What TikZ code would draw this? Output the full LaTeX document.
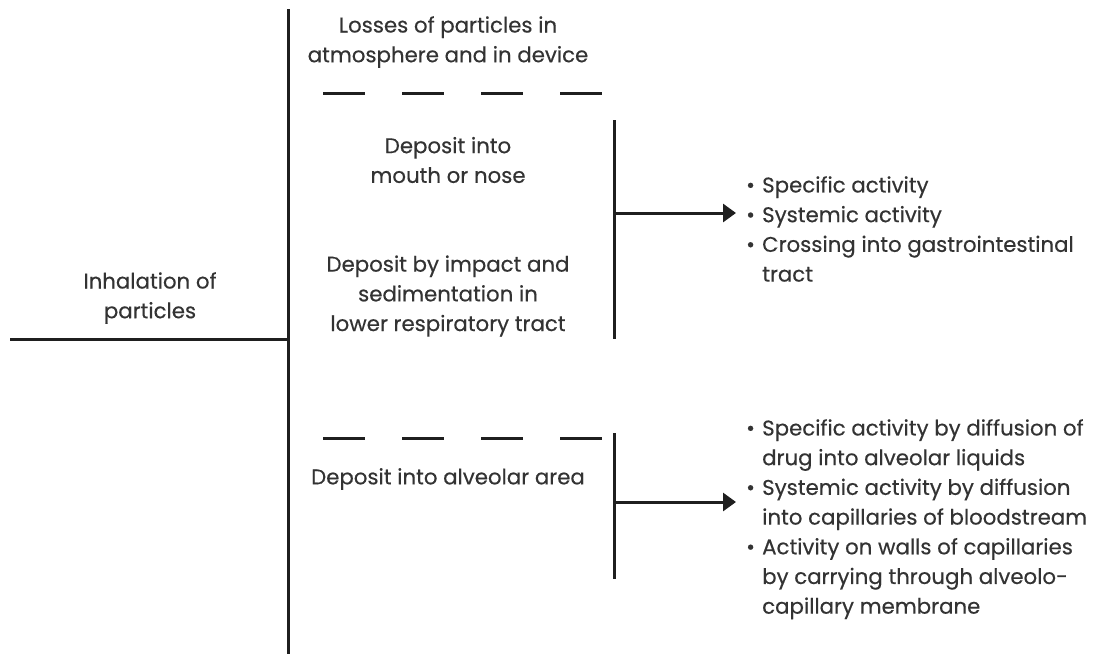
\documentclass[tikz,border=0pt]{standalone}
\usepackage{fontspec}
\setmainfont{Poppins}[FakeBold=0.4]
\usetikzlibrary{arrows.meta}
\newcommand\bul{\makebox[16pt][l]{\textbullet}}
\newcommand\hang{\hspace*{16pt}}
\begin{document}
\begin{tikzpicture}[x=1pt,y=-1pt,
  ln/.style={line width=3pt, draw=black!88},
  dsh/.style={line width=3pt, draw=black!88, dash pattern=on 42pt off 37pt},
  arr/.style={ln, -{Triangle[length=13pt,width=18pt]}},
  lbl/.style={font=\fontsize{21.3}{29.7}\selectfont, align=center, text=black!80, inner sep=0},
  blist/.style={font=\fontsize{21.3}{29.7}\selectfont, align=left, text=black!80, inner sep=0, anchor=north west}]
\useasboundingbox (0,0) rectangle (1101,654);
% main spine
\coordinate (top) at (288,9);
\coordinate (bot) at (288,654);
\coordinate (in) at (10,339);
\coordinate (junc) at (288,339);
\draw[ln] (top) -- (bot);
\draw[ln] (in) -- (junc);
\node[lbl] (inh) at (150,298) {Inhalation of\\particles};
% losses
\node[lbl] (loss) at (448,42) {Losses of particles in\\atmosphere and in device};
\coordinate (d1a) at (323,93);
\coordinate (d1b) at (602,93);
\draw[dsh] (d1a) -- (d1b);
% upper deposits
\node[lbl] (mouth) at (448,160) {Deposit into\\mouth or nose};
\node[lbl] (impact) at (448,296) {Deposit by impact and\\sedimentation in\\lower respiratory tract};
\coordinate (v1t) at (614,120);
\coordinate (v1b) at (614,339);
\draw[ln] (v1t) -- (v1b);
\coordinate (a1s) at (614,213);
\coordinate (a1e) at (736,213);
\draw[arr] (a1s) -- (a1e);
\node[blist] (list1) at (746,176) {\bul Specific activity\\\bul Systemic activity\\\bul Crossing into gastrointestinal\\\hang tract};
% alveolar
\coordinate (d2a) at (323,438);
\coordinate (d2b) at (602,438);
\draw[dsh] (d2a) -- (d2b);
\node[lbl] (alv) at (448,479) {Deposit into alveolar area};
\coordinate (v2t) at (614,433);
\coordinate (v2b) at (614,579);
\draw[ln] (v2t) -- (v2b);
\coordinate (a2s) at (614,502);
\coordinate (a2e) at (736,502);
\draw[arr] (a2s) -- (a2e);
\node[blist] (list2) at (746,419) {\bul Specific activity by diffusion of\\\hang drug into alveolar liquids\\\bul Systemic activity by diffusion\\\hang into capillaries of bloodstream\\\bul Activity on walls of capillaries\\\hang by carrying through alveolo-\\\hang capillary membrane};
\end{tikzpicture}
\end{document}
